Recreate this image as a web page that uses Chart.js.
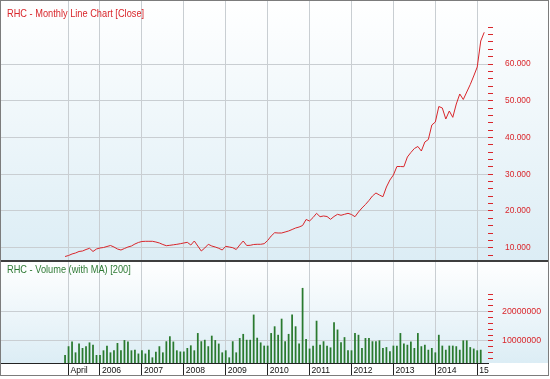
<!DOCTYPE html>
<html>
<head>
<meta charset="utf-8">
<script src="https://cdn.jsdelivr.net/npm/chart.js@4.4.1/dist/chart.umd.min.js"></script>
<style>
html,body{margin:0;padding:0;background:#fff;}
#wrap{position:relative;width:550px;height:379px;overflow:hidden;}
#frame{position:absolute;left:0;top:0;width:549px;height:376px;border:1px solid #7c7c7c;box-sizing:border-box;}
#sep{position:absolute;left:1px;top:260px;width:547px;height:2px;background:#3e3e3e;}
#cPrice{position:absolute;left:1px;top:1px;}
#cVol{position:absolute;left:1px;top:262px;}
</style>
</head>
<body>
<div id="wrap">
  <div id="frame"></div>
  <canvas id="cPrice" width="547" height="259"></canvas>
  <div id="sep"></div>
  <canvas id="cVol" width="547" height="113"></canvas>
</div>
<script>
// Month index 0 = March 2005 (monthly data)
const CLOSE = [
  7600,7880,8290,8560,8970,9100,9510,9840,8970,9650,
  9920,10050,10330,10600,10190,9650,9370,9780,10190,10460,
  11010,11420,11690,11740,11740,11740,11550,11280,10870,10540,
  10650,10790,10920,11090,11280,11470,10730,11820,10460,9100,
  9920,10930,10460,10190,9840,9370,10380,10190,10000,9510,
  10730,11820,10600,10650,10870,10930,10930,11090,11960,13180,
  14080,14000,14000,14270,14550,14950,15360,15630,16040,17680,
  17270,18220,19360,18440,18630,18490,17730,18490,19090,18820,
  19090,19360,19040,18440,19720,20810,21760,22850,24070,24890,
  24340,23880,26520,28430,29790,32100,32100,32050,34690,35910,
  37000,37550,36320,38770,39450,43400,44210,48430,48030,45030,
  47210,45490,49110,51840,50340,52380,54420,56740,59190,66260,
  68630
];
const VOLUME = [
  5100000,8100000,9700000,6000000,9000000,7500000,8100000,9400000,8600000,5100000,
  5100000,6700000,8300000,6000000,6700000,9200000,6700000,10200000,9700000,6700000,
  6900000,5600000,6700000,5600000,6900000,4300000,6200000,8100000,6000000,9800000,
  11500000,9700000,6700000,6300000,6300000,7500000,8400000,6700000,12600000,9800000,
  10300000,8100000,11700000,10200000,9000000,6000000,6700000,4300000,9800000,6000000,
  10900000,12300000,10300000,10300000,18900000,11000000,9400000,8300000,8300000,12600000,
  14900000,12000000,17500000,9800000,12300000,18900000,14900000,9000000,28000000,10600000,
  7300000,8300000,16800000,8600000,9800000,8300000,7700000,16300000,13800000,9500000,
  11200000,6700000,6700000,12600000,12000000,7500000,10900000,10900000,9800000,9800000,
  10100000,7500000,7800000,6400000,8300000,8300000,12600000,9000000,8600000,9700000,
  7500000,12600000,8100000,8600000,6900000,7500000,6000000,12000000,8300000,6900000,
  8300000,8300000,8100000,6900000,10100000,10100000,7800000,7300000,6700000,6900000
];
const YEAR_TICKS = [1,10,22,34,46,58,70,82,94,106,118];
const YEAR_LABELS = ['April','2006','2007','2008','2009','2010','2011','2012','2013','2014','15'];
const PRICE_TICKS = [];
for (let v = 8000; v <= 70000; v += 2000) PRICE_TICKS.push(v);
const PRICE_LABELED = [10000,20000,30000,40000,50000,60000];
const VOL_TICKS = [];
for (let v = 4000000; v <= 26000000; v += 2000000) VOL_TICKS.push(v);
const VOL_LABELED = [10000000,20000000];

const TITLE_PRICE = 'RHC - Monthly Line Chart [Close]';
const TITLE_VOL = 'RHC - Volume (with MA) [200]';

const FONT = "'Liberation Sans',Arial,sans-serif";
const X_MIN = -18.34, X_MAX = 121.08;

function dotThousands(v){
  return String(Math.round(v)).replace(/\B(?=(\d{3})+(?!\d))/g,'.');
}

const bgPlugin = {
  id:'bg',
  beforeDraw(chart, args, opts){
    const {ctx, width, height, chartArea} = chart;
    const h = opts.toArea ? chartArea.bottom : height;
    const g = ctx.createLinearGradient(0,0,0,h);
    g.addColorStop(0,'#ffffff');
    g.addColorStop(1,'#dcedf5');
    ctx.save();
    ctx.fillStyle = '#ffffff';
    ctx.fillRect(0,0,width,height);
    ctx.fillStyle = g;
    ctx.fillRect(0,0,width,h);
    ctx.restore();
  }
};
const titlePlugin = {
  id:'panelTitle',
  afterDraw(chart, args, opts){
    const ctx = chart.ctx;
    ctx.save();
    ctx.font = opts.size + 'px ' + FONT;
    ctx.fillStyle = opts.color;
    ctx.textBaseline = 'alphabetic';
    ctx.translate(opts.x, opts.y);
    ctx.scale(opts.squeeze, 1);
    ctx.fillText(opts.text, 0, 0);
    ctx.restore();
  }
};

function zeroPad(scale){ scale.paddingTop=0; scale.paddingBottom=0; scale.paddingLeft=0; scale.paddingRight=0; }

new Chart(document.getElementById('cPrice'), {
  type:'line',
  data:{ datasets:[{
    data: CLOSE.map((v,i)=>({x:i,y:v})),
    borderColor:'#d9262b', borderWidth:1, pointRadius:0, tension:0, fill:false
  }]},
  options:{
    responsive:false, animation:false, events:[],
    layout:{padding:0},
    plugins:{ legend:{display:false}, tooltip:{enabled:false},
      bg:{toArea:false},
      panelTitle:{text:TITLE_PRICE, x:6, y:16, size:11, squeeze:0.84, color:'#d9262b'} },
    scales:{
      x:{ type:'linear', min:X_MIN, max:X_MAX, offset:false,
        afterBuildTicks(s){ s.ticks = YEAR_TICKS.map(v=>({value:v})); },
        afterFit(s){ s.height=0; zeroPad(s); },
        ticks:{display:false, autoSkip:false},
        grid:{color:'#c9ced2', lineWidth:1, drawTicks:false, offset:false},
        border:{display:false}
      },
      y:{ type:'linear', position:'right', min:6652, max:77150,
        afterBuildTicks(s){ s.ticks = PRICE_TICKS.map(v=>({value:v})); },
        afterFit(s){ s.width=60; zeroPad(s); },
        ticks:{ autoSkip:false, color:'#d9262b', padding:12, font:{family:FONT, size:8.4},
          callback:(v)=> PRICE_LABELED.includes(v) ? dotThousands(v) : '' },
        grid:{ color:(c)=> (c.tick && PRICE_LABELED.includes(c.tick.value)) ? '#c9ced2' : 'rgba(0,0,0,0)',
          tickColor:'#d9262b', tickLength:5, lineWidth:1 },
        border:{display:false}
      }
    }
  },
  plugins:[bgPlugin, titlePlugin]
});

new Chart(document.getElementById('cVol'), {
  type:'bar',
  data:{ datasets:[{
    data: VOLUME.map((v,i)=>({x:i,y:v})),
    backgroundColor:'#2a7a2f', borderWidth:0, barThickness:1.1
  }]},
  options:{
    responsive:false, animation:false, events:[],
    layout:{padding:0},
    plugins:{ legend:{display:false}, tooltip:{enabled:false},
      bg:{toArea:true},
      panelTitle:{text:TITLE_VOL, x:6, y:11, size:11, squeeze:0.84, color:'#2f7a35'} },
    scales:{
      x:{ type:'linear', min:X_MIN, max:X_MAX, offset:false,
        afterBuildTicks(s){ s.ticks = YEAR_TICKS.map(v=>({value:v})); },
        afterFit(s){ s.height=12; zeroPad(s); },
        ticks:{ display:true, autoSkip:false, maxRotation:0, minRotation:0, align:'start',
          labelOffset:2, padding:-10, color:'#111', font:{family:FONT, size:8.6},
          callback:(v)=> { const k = YEAR_TICKS.indexOf(v); return k>=0 ? YEAR_LABELS[k] : ''; } },
        grid:{ color:'#c9ced2', lineWidth:1, drawTicks:true, tickLength:12, tickColor:'#222', offset:false },
        border:{display:true, color:'#222', width:1}
      },
      y:{ type:'linear', position:'right', min:2490000, max:36960000,
        afterBuildTicks(s){ s.ticks = VOL_TICKS.map(v=>({value:v})); },
        afterFit(s){ s.width=60; zeroPad(s); },
        ticks:{ autoSkip:false, color:'#d9262b', padding:9, font:{family:FONT, size:8.8},
          callback:(v)=> VOL_LABELED.includes(v) ? String(v) : '' },
        grid:{ color:(c)=> (c.tick && VOL_LABELED.includes(c.tick.value)) ? '#c9ced2' : 'rgba(0,0,0,0)',
          tickColor:'#d9262b', tickLength:5, lineWidth:1 },
        border:{display:false}
      }
    }
  },
  plugins:[bgPlugin, titlePlugin]
});
</script>
</body>
</html>
